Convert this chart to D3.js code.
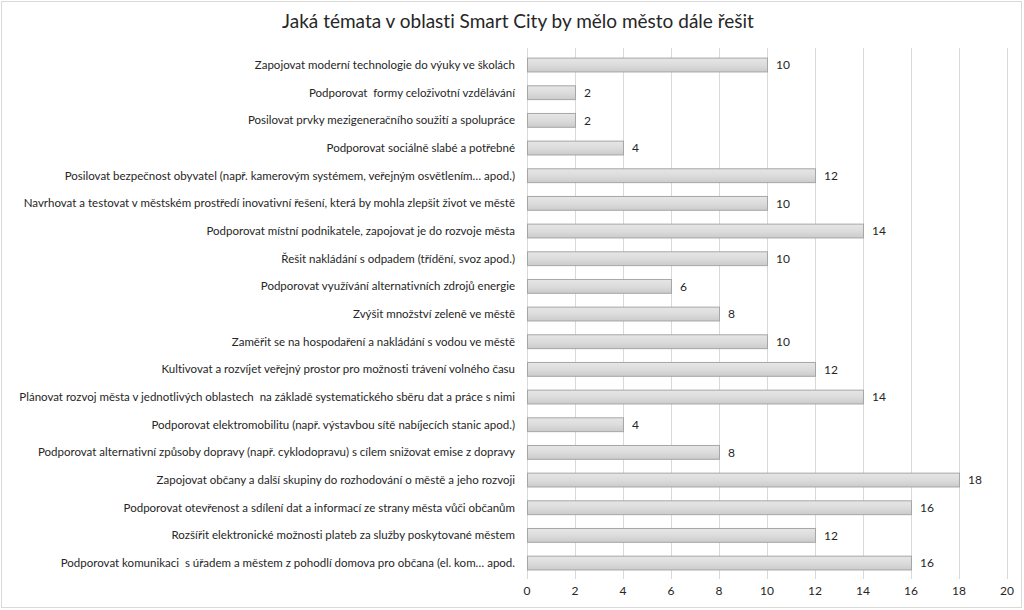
<!DOCTYPE html>
<html>
<head>
<meta charset="utf-8">
<script src="https://cdn.jsdelivr.net/npm/d3@7"></script>
<style>
body { margin: 0; background: #fff; }
text { font-family: Lato, "Open Sans", sans-serif; fill: #262626; white-space: pre; font-variant-ligatures: none; }
</style>
</head>
<body>
<svg id="chart" width="1024" height="610"></svg>
<script>
var chartTitle = 'Jaká témata v oblasti Smart City by mělo město dále řešit';

var topics = [
	'Zapojovat moderní technologie do výuky ve školách',
	'Podporovat  formy celoživotní vzdělávání',
	'Posilovat prvky mezigeneračního soužití a spolupráce',
	'Podporovat sociálně slabé a potřebné',
	'Posilovat bezpečnost obyvatel (např. kamerovým systémem, veřejným osvětlením… apod.)',
	'Navrhovat a testovat v městském prostředí inovativní řešení, která by mohla zlepšit život ve městě',
	'Podporovat místní podnikatele, zapojovat je do rozvoje města',
	'Řešit nakládání s odpadem (třídění, svoz apod.)',
	'Podporovat využívání alternativních zdrojů energie',
	'Zvýšit množství zeleně ve městě',
	'Zaměřit se na hospodaření a nakládání s vodou ve městě',
	'Kultivovat a rozvíjet veřejný prostor pro možnosti trávení volného času',
	'Plánovat rozvoj města v jednotlivých oblastech  na základě systematického sběru dat a práce s nimi',
	'Podporovat elektromobilitu (např. výstavbou sítě nabíjecích stanic apod.)',
	'Podporovat alternativní způsoby dopravy (např. cyklodopravu) s cílem snižovat emise z dopravy',
	'Zapojovat občany a další skupiny do rozhodování o městě a jeho rozvoji',
	'Podporovat otevřenost a sdílení dat a informací ze strany města vůči občanům',
	'Rozšířit elektronické možnosti plateb za služby poskytované městem',
	'Podporovat komunikaci  s úřadem a městem z pohodlí domova pro občana (el. kom… apod.'
];

var counts = [10, 2, 2, 4, 12, 10, 14, 10, 6, 8, 10, 12, 14, 4, 8, 18, 16, 12, 16];

var xTicks = [0, 2, 4, 6, 8, 10, 12, 14, 16, 18, 20];

var svg = d3.select('#chart'),
	plotLeft = 527, plotRight = 1007, plotTop = 51.2, plotBottom = 576.9;

// outer frame
svg.append('rect')
	.attr('x', 1.5).attr('y', 1.5).attr('width', 1020).attr('height', 606)
	.attr('fill', '#fff').attr('stroke', '#d9d9d9').attr('stroke-width', 1);

var defs = svg.append('defs');
var grad = defs.append('linearGradient').attr('id', 'barFill')
	.attr('x1', 0).attr('y1', 0).attr('x2', 0).attr('y2', 1);
grad.append('stop').attr('offset', '0%').attr('stop-color', '#e6e6e6');
grad.append('stop').attr('offset', '50%').attr('stop-color', '#dcdcdc');
grad.append('stop').attr('offset', '100%').attr('stop-color', '#cbcbcb');

var x = d3.scaleLinear().domain([0, 20]).range([plotLeft, plotRight]);
var y = d3.scaleBand().domain(topics).range([plotTop, plotBottom]).paddingInner(0.5).paddingOuter(0.25);

// gridlines
svg.append('g').selectAll('line').data(xTicks).enter().append('line')
	.attr('x1', function (d) {return Math.round(x(d)) + 0.5;})
	.attr('x2', function (d) {return Math.round(x(d)) + 0.5;})
	.attr('y1', 48).attr('y2', 579)
	.attr('stroke', '#d9d9d9').attr('stroke-width', 1);

// x axis labels
svg.append('g').selectAll('text').data(xTicks).enter().append('text')
	.attr('x', function (d) {return x(d);})
	.attr('y', 595)
	.attr('text-anchor', 'middle')
	.attr('font-size', 12)
	.text(function (d) {return d;});

// category labels
svg.append('g').selectAll('text').data(topics).enter().append('text')
	.attr('x', 515)
	.attr('y', function (d) {return y(d) + y.bandwidth() / 2;})
	.attr('dy', '0.35em')
	.attr('text-anchor', 'end')
	.attr('font-size', 11.5)
	.text(function (d) {return d;});

// bars
svg.append('g').selectAll('rect').data(counts).enter().append('rect')
	.attr('x', x(0) + 0.5)
	.attr('y', function (d, i) {return y(topics[i]);})
	.attr('width', function (d) {return x(d) - x(0);})
	.attr('height', y.bandwidth())
	.attr('fill', 'url(#barFill)')
	.attr('stroke', '#a6a6a6').attr('stroke-width', 1);

// value labels
svg.append('g').selectAll('text').data(counts).enter().append('text')
	.attr('x', function (d) {return x(d) + 9;})
	.attr('y', function (d, i) {return y(topics[i]) + y.bandwidth() / 2;})
	.attr('dy', '0.35em')
	.attr('font-size', 12)
	.text(function (d) {return d;});

// title
svg.append('text')
	.attr('x', 518).attr('y', 28)
	.attr('text-anchor', 'middle')
	.attr('font-size', 19)
	.text(chartTitle);
</script>
</body>
</html>
